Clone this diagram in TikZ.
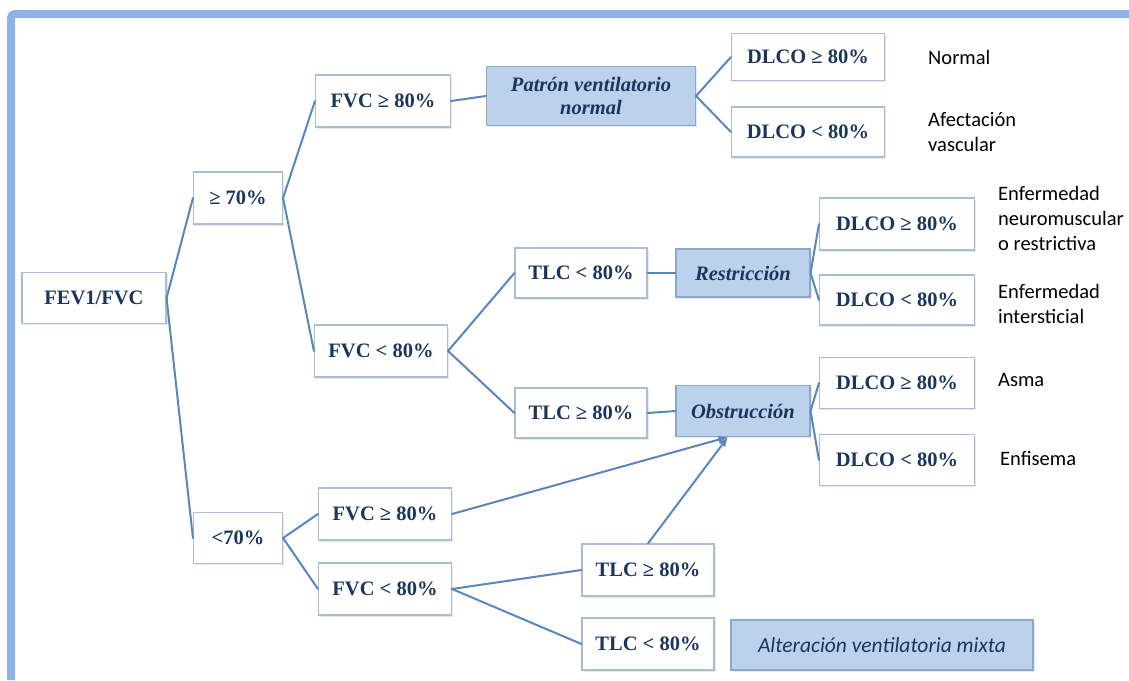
\documentclass[tikz,border=0pt]{standalone}
\usepackage{fontspec}
\setmainfont{Liberation Serif}
\newfontfamily\calibrifont{Carlito}
\usepackage{tikz}
\usetikzlibrary{arrows.meta, shadows}

\definecolor{frameblue}{HTML}{8EB1E6}
\definecolor{linkblue}{HTML}{5A86BC}
\definecolor{boxline}{HTML}{A9BDD6}
\definecolor{boxfill}{HTML}{BCD2EC}
\definecolor{boxdark}{HTML}{8AA8CC}
\definecolor{navy}{HTML}{1B365C}

\begin{document}
\begin{tikzpicture}[
            x=1pt, y=-1pt,
            >=Latex,
            line cap=round,
            cell/.style={draw=boxline, line width=1.1pt, fill=white, inner sep=0pt,
                text=navy, font=\fontsize{20.5}{23}\selectfont\bfseries,
                drop shadow={opacity=0.18, shadow xshift=1.5pt, shadow yshift=-1.5pt}},
            shaded cell/.style={cell, draw=boxdark, fill=boxfill,
                font=\fontsize{20.5}{23}\selectfont\bfseries\itshape, align=center},
            link/.style={draw=linkblue, line width=2pt},
            link arrow/.style={link, -{Latex[length=3.4mm, width=2.8mm]}},
            result/.style={anchor=west, align=left, inner sep=0pt,
                font=\calibrifont\fontsize{20.5}{25}\selectfont},
        ]
        \useasboundingbox (0,0) rectangle (1129,680);

        % frame
        \draw[frameblue, line width=8pt, rounded corners=4pt, line cap=butt]
            (11,680) -- (11,14) -- (1129,14);

        % first split
        \node[cell, minimum width=144, minimum height=51] (fev) at (94,298) {FEV1/FVC};
        \node[cell, minimum width=89, minimum height=52] (ge70) at (238,198) {≥ 70\%};
        \node[cell, minimum width=89, minimum height=51] (lt70) at (238,538) {<70\%};

        % FVC boxes
        \node[cell, minimum width=135, minimum height=52] (fvcA) at (383,101) {FVC ≥ 80\%};
        \node[cell, minimum width=133, minimum height=52] (fvcB) at (381,351) {FVC < 80\%};
        \node[cell, minimum width=133, minimum height=52] (fvcC) at (385,514) {FVC ≥ 80\%};
        \node[cell, minimum width=133, minimum height=52] (fvcD) at (385,589) {FVC < 80\%};

        % TLC boxes
        \node[cell, minimum width=132, minimum height=50] (tlcA) at (581,273) {TLC < 80\%};
        \node[cell, minimum width=132, minimum height=50] (tlcB) at (581,413) {TLC ≥ 80\%};
        \node[cell, minimum width=132, minimum height=52] (tlcC) at (648,570) {TLC ≥ 80\%};
        \node[cell, minimum width=132, minimum height=52] (tlcD) at (648,644) {TLC < 80\%};

        % patterns
        \node[shaded cell, minimum width=209, minimum height=59] (patron) at (591,96)
            {Patrón ventilatorio\\normal};
        \node[shaded cell, minimum width=134, minimum height=48] (restr) at (743,273) {Restricción};
        \node[shaded cell, minimum width=134, minimum height=51] (obstr) at (743,411) {Obstrucción};
        \node[shaded cell, minimum width=302, minimum height=50,
            font=\calibrifont\fontsize{21.5}{23}\selectfont\itshape] (mixta) at (882,645)
            {Alteración ventilatoria mixta};

        % DLCO boxes
        \node[cell, minimum width=153, minimum height=47] (dlcoA) at (808,57) {DLCO ≥ 80\%};
        \node[cell, minimum width=153, minimum height=50] (dlcoB) at (808,132) {DLCO < 80\%};
        \node[cell, minimum width=155, minimum height=52] (dlcoC) at (897,224) {DLCO ≥ 80\%};
        \node[cell, minimum width=155, minimum height=50] (dlcoD) at (897,300) {DLCO < 80\%};
        \node[cell, minimum width=155, minimum height=51] (dlcoE) at (897,383) {DLCO ≥ 80\%};
        \node[cell, minimum width=155, minimum height=51] (dlcoF) at (897,460) {DLCO < 80\%};

        % outcomes
        \node[result] (normal) at (928,57) {Normal};
        \node[result] (vasc) at (928,132) {Afectación\\vascular};
        \node[result] (neuro) at (998,218) {Enfermedad\\neuromuscular\\o restrictiva};
        \node[result] (inter) at (998,304) {Enfermedad\\intersticial};
        \node[result] (asma) at (998,380) {Asma};
        \node[result] (enfis) at (1000,458) {Enfisema};

        % tree
        \draw[link] (fev.east) -- (ge70.west);
        \draw[link] (fev.east) -- (lt70.west);
        \draw[link] (ge70.east) -- (fvcA.west);
        \draw[link] (ge70.east) -- (fvcB.west);
        \draw[link] (lt70.east) -- (fvcC.west);
        \draw[link] (lt70.east) -- (fvcD.west);
        \draw[link] (fvcA.east) -- (patron.west);
        \draw[link] (fvcB.east) -- (tlcA.west);
        \draw[link] (fvcB.east) -- (tlcB.west);
        \draw[link] (fvcD.east) -- (tlcC.west);
        \draw[link] (fvcD.east) -- (tlcD.west);
        \draw[link] (tlcA.east) -- (restr.west);
        \draw[link] (tlcB.east) -- (obstr.west);
        \draw[link] (patron.east) -- (dlcoA.west);
        \draw[link] (patron.east) -- (dlcoB.west);
        \draw[link] (restr.east) -- (dlcoC.west);
        \draw[link] (restr.east) -- (dlcoD.west);
        \draw[link] (obstr.east) -- (dlcoE.west);
        \draw[link] (obstr.east) -- (dlcoF.west);

        % both routes into obstruction
        \coordinate (hit) at (728,437);
        \draw[link arrow] (fvcC.east) -- (hit);
        \draw[link arrow] (tlcC.north) -- (hit);
\end{tikzpicture}
\end{document}
